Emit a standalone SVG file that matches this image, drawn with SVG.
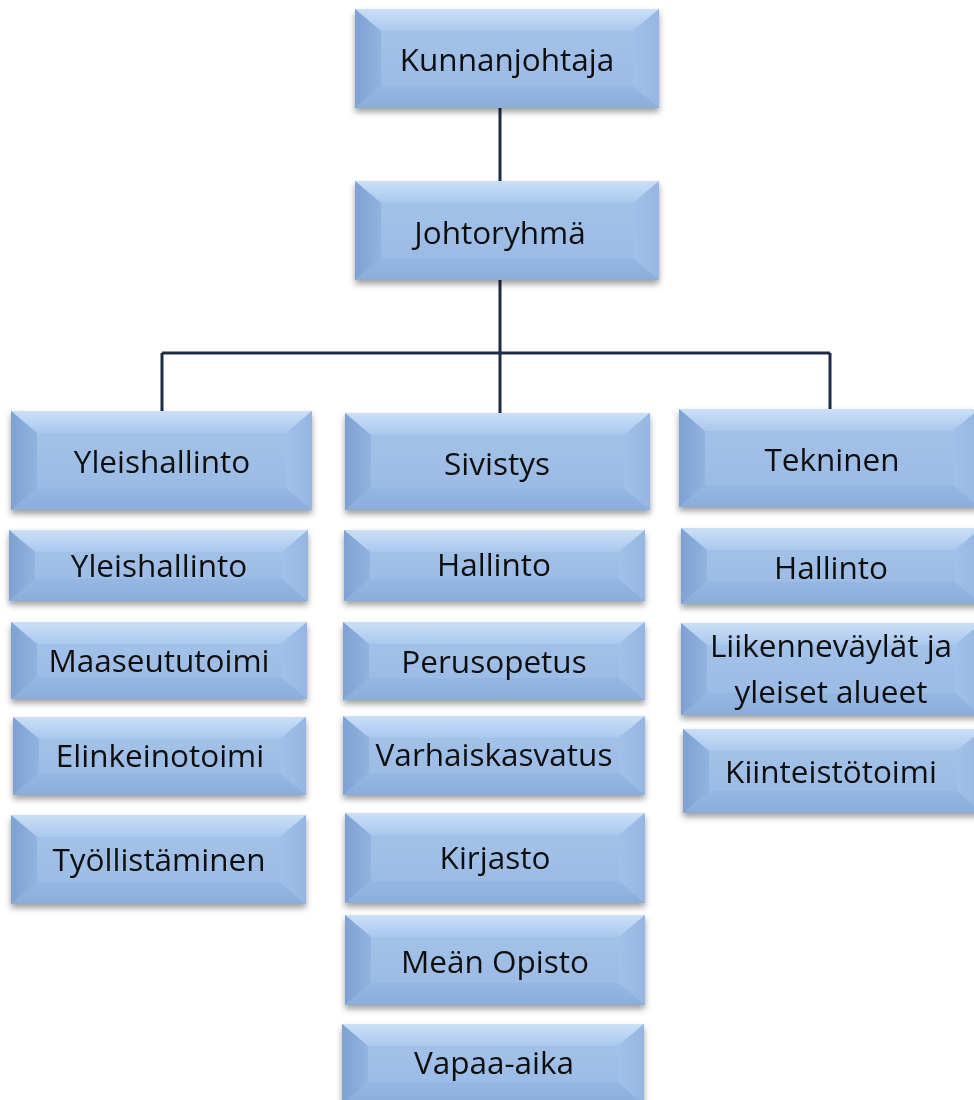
<svg xmlns="http://www.w3.org/2000/svg" width="974" height="1100" viewBox="0 0 974 1100">
<defs>
<filter id="sh" x="-10%" y="-20%" width="120%" height="150%"><feDropShadow dx="0" dy="4" stdDeviation="3" flood-color="#000" flood-opacity="0.38"/></filter>
<linearGradient id="gt" x1="0" y1="0" x2="0" y2="1"><stop offset="0" stop-color="#cbe0f7"/><stop offset="1" stop-color="#a9c7ed"/></linearGradient>
<linearGradient id="gl" x1="0" y1="0" x2="1" y2="0"><stop offset="0" stop-color="#7ea1d3"/><stop offset="1" stop-color="#92b3df"/></linearGradient>
<linearGradient id="gr" x1="0" y1="0" x2="1" y2="0"><stop offset="0" stop-color="#a2c0e8"/><stop offset="1" stop-color="#95b6e2"/></linearGradient>
<linearGradient id="gb" x1="0" y1="0" x2="0" y2="1"><stop offset="0" stop-color="#96b7e3"/><stop offset="1" stop-color="#8badda"/></linearGradient>
<linearGradient id="gc" x1="0" y1="0" x2="0" y2="1"><stop offset="0" stop-color="#a5c4ea"/><stop offset="1" stop-color="#98b9e4"/></linearGradient>
</defs>
<style>
.bg{fill:url(#gc)}.t{fill:url(#gt)}.l{fill:url(#gl)}.r{fill:url(#gr)}.b{fill:url(#gb)}
.box{filter:url(#sh)}
text{font-family:"Open Sans","Liberation Sans",sans-serif;font-size:31.5px;fill:#111;text-anchor:middle}
.con{stroke:#1e2b45;stroke-width:3;fill:none}
</style>
<g id="connectors">
<path class="con" d="M500 108V181M500 280V353M162 353H830M162 353V411M500 353V413M830 353V409"/>
</g>
<g id="n1" class="box"><rect class="bg" x="355" y="9" width="304" height="99"/><polygon class="t" points="355,9 659,9 633,31 381,31"/><polygon class="b" points="355,108 659,108 633,86 381,86"/><polygon class="l" points="355,9 381,31 381,86 355,108"/><polygon class="r" points="659,9 633,31 633,86 659,108"/><text x="507" y="71">Kunnanjohtaja</text></g>
<g id="n2" class="box"><rect class="bg" x="355" y="181" width="304" height="99"/><polygon class="t" points="355,181 659,181 633,203 381,203"/><polygon class="b" points="355,280 659,280 633,258 381,258"/><polygon class="l" points="355,181 381,203 381,258 355,280"/><polygon class="r" points="659,181 633,203 633,258 659,280"/><text x="500" y="244">Johtoryhmä</text></g>
<g id="n3" class="box"><rect class="bg" x="11" y="411" width="301" height="99"/><polygon class="t" points="11,411 312,411 286,433 37,433"/><polygon class="b" points="11,510 312,510 286,488 37,488"/><polygon class="l" points="11,411 37,433 37,488 11,510"/><polygon class="r" points="312,411 286,433 286,488 312,510"/><text x="162" y="473">Yleishallinto</text></g>
<g id="n4" class="box"><rect class="bg" x="9" y="530" width="299" height="71"/><polygon class="t" points="9,530 308,530 282,552 35,552"/><polygon class="b" points="9,601 308,601 282,579 35,579"/><polygon class="l" points="9,530 35,552 35,579 9,601"/><polygon class="r" points="308,530 282,552 282,579 308,601"/><text x="159" y="577">Yleishallinto</text></g>
<g id="n5" class="box"><rect class="bg" x="11" y="622" width="296" height="77"/><polygon class="t" points="11,622 307,622 281,644 37,644"/><polygon class="b" points="11,699 307,699 281,677 37,677"/><polygon class="l" points="11,622 37,644 37,677 11,699"/><polygon class="r" points="307,622 281,644 281,677 307,699"/><text x="159" y="672">Maaseututoimi</text></g>
<g id="n6" class="box"><rect class="bg" x="13" y="717" width="293" height="78"/><polygon class="t" points="13,717 306,717 280,739 39,739"/><polygon class="b" points="13,795 306,795 280,773 39,773"/><polygon class="l" points="13,717 39,739 39,773 13,795"/><polygon class="r" points="306,717 280,739 280,773 306,795"/><text x="160" y="767">Elinkeinotoimi</text></g>
<g id="n7" class="box"><rect class="bg" x="11" y="815" width="295" height="89"/><polygon class="t" points="11,815 306,815 280,837 37,837"/><polygon class="b" points="11,904 306,904 280,882 37,882"/><polygon class="l" points="11,815 37,837 37,882 11,904"/><polygon class="r" points="306,815 280,837 280,882 306,904"/><text x="159" y="871">Työllistäminen</text></g>
<g id="n8" class="box"><rect class="bg" x="345" y="413" width="305" height="97"/><polygon class="t" points="345,413 650,413 624,435 371,435"/><polygon class="b" points="345,510 650,510 624,488 371,488"/><polygon class="l" points="345,413 371,435 371,488 345,510"/><polygon class="r" points="650,413 624,435 624,488 650,510"/><text x="497" y="475">Sivistys</text></g>
<g id="n9" class="box"><rect class="bg" x="344" y="530" width="301" height="71"/><polygon class="t" points="344,530 645,530 619,552 370,552"/><polygon class="b" points="344,601 645,601 619,579 370,579"/><polygon class="l" points="344,530 370,552 370,579 344,601"/><polygon class="r" points="645,530 619,552 619,579 645,601"/><text x="494" y="576">Hallinto</text></g>
<g id="n10" class="box"><rect class="bg" x="343" y="622" width="302" height="78"/><polygon class="t" points="343,622 645,622 619,644 369,644"/><polygon class="b" points="343,700 645,700 619,678 369,678"/><polygon class="l" points="343,622 369,644 369,678 343,700"/><polygon class="r" points="645,622 619,644 619,678 645,700"/><text x="494" y="673">Perusopetus</text></g>
<g id="n11" class="box"><rect class="bg" x="343" y="716" width="302" height="79"/><polygon class="t" points="343,716 645,716 619,738 369,738"/><polygon class="b" points="343,795 645,795 619,773 369,773"/><polygon class="l" points="343,716 369,738 369,773 343,795"/><polygon class="r" points="645,716 619,738 619,773 645,795"/><text x="494" y="766">Varhaiskasvatus</text></g>
<g id="n12" class="box"><rect class="bg" x="345" y="813" width="300" height="90"/><polygon class="t" points="345,813 645,813 619,835 371,835"/><polygon class="b" points="345,903 645,903 619,881 371,881"/><polygon class="l" points="345,813 371,835 371,881 345,903"/><polygon class="r" points="645,813 619,835 619,881 645,903"/><text x="495" y="869">Kirjasto</text></g>
<g id="n13" class="box"><rect class="bg" x="345" y="915" width="300" height="90"/><polygon class="t" points="345,915 645,915 619,937 371,937"/><polygon class="b" points="345,1005 645,1005 619,983 371,983"/><polygon class="l" points="345,915 371,937 371,983 345,1005"/><polygon class="r" points="645,915 619,937 619,983 645,1005"/><text x="495" y="973">Meän Opisto</text></g>
<g id="n14" class="box"><rect class="bg" x="342" y="1024" width="302" height="80"/><polygon class="t" points="342,1024 644,1024 618,1046 368,1046"/><polygon class="b" points="342,1104 644,1104 618,1082 368,1082"/><polygon class="l" points="342,1024 368,1046 368,1082 342,1104"/><polygon class="r" points="644,1024 618,1046 618,1082 644,1104"/><text x="494" y="1074">Vapaa-aika</text></g>
<g id="n15" class="box"><rect class="bg" x="679" y="409" width="300" height="98"/><polygon class="t" points="679,409 979,409 953,431 705,431"/><polygon class="b" points="679,507 979,507 953,485 705,485"/><polygon class="l" points="679,409 705,431 705,485 679,507"/><polygon class="r" points="979,409 953,431 953,485 979,507"/><text x="832" y="471">Tekninen</text></g>
<g id="n16" class="box"><rect class="bg" x="681" y="528" width="300" height="76"/><polygon class="t" points="681,528 981,528 955,550 707,550"/><polygon class="b" points="681,604 981,604 955,582 707,582"/><polygon class="l" points="681,528 707,550 707,582 681,604"/><polygon class="r" points="981,528 955,550 955,582 981,604"/><text x="831" y="579">Hallinto</text></g>
<g id="n17" class="box"><rect class="bg" x="681" y="623" width="300" height="92"/><polygon class="t" points="681,623 981,623 955,645 707,645"/><polygon class="b" points="681,715 981,715 955,693 707,693"/><polygon class="l" points="681,623 707,645 707,693 681,715"/><polygon class="r" points="981,623 955,645 955,693 981,715"/><text x="831" y="657">Liikenneväylät ja</text><text x="831" y="703">yleiset alueet</text></g>
<g id="n18" class="box"><rect class="bg" x="683" y="729" width="300" height="84"/><polygon class="t" points="683,729 983,729 957,751 709,751"/><polygon class="b" points="683,813 983,813 957,791 709,791"/><polygon class="l" points="683,729 709,751 709,791 683,813"/><polygon class="r" points="983,729 957,751 957,791 983,813"/><text x="831" y="783">Kiinteistötoimi</text></g>
</svg>
